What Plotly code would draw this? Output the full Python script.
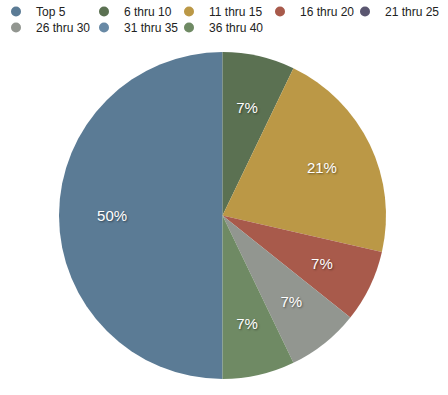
import plotly.graph_objects as go

categories = ["Top 5", "6 thru 10", "11 thru 15", "16 thru 20", "21 thru 25",
              "26 thru 30", "31 thru 35", "36 thru 40"]
values = [7, 1, 3, 1, 0, 1, 0, 1]
colors = ["#5b7b95", "#5b7152", "#bb9846", "#a85a4b", "#5a5670",
          "#929690", "#6889a5", "#6f8a64"]

W, H = 448, 395
CX, CY, R = 222.5, 215.5, 163.5  # pie centre/radius (px)

# legend layout: 5 columns, 2 rows (marker centre x in px, row y in paper coords)
COL_PX = [15, 103, 188, 279, 364]
ROW_Y = [1.0075, 0.967]
SYMBOL_OFFSET = 19  # px from legend left edge to marker centre


def domain(rad):
    return dict(x=[(CX - rad) / W, (CX + rad) / W],
                y=[(H - CY - rad) / H, (H - CY + rad) / H])


font = "Liberation Sans, Arial, sans-serif"
RO, RI = 0.79, 0.56  # ring that carries the labels

fig = go.Figure()
fig.add_trace(go.Pie(
    labels=categories, values=values, sort=False, direction="clockwise",
    rotation=180, marker=dict(colors=colors, line=dict(width=0)),
    textinfo="none", showlegend=False, hoverinfo="label+percent", domain=domain(R),
))
fig.add_trace(go.Pie(
    labels=categories, values=values, sort=False, direction="clockwise",
    rotation=180, hole=RI / RO,
    marker=dict(colors=["rgba(0,0,0,0)"] * len(categories), line=dict(width=0)),
    texttemplate="%{percent:.0%}", textposition="inside",
    insidetextorientation="horizontal",
    textfont=dict(family=font, size=15, color="white",
                  shadow="1px 1px 2px rgba(0,0,0,0.45)"),
    showlegend=False, hoverinfo="skip", domain=domain(R * RO),
))

leg = dict(orientation="h", yanchor="top", xanchor="left", itemwidth=30,
           font=dict(family=font, size=12, color="#222"),
           bgcolor="rgba(0,0,0,0)")
legends = {}
for i, (c, col) in enumerate(zip(categories, colors)):
    name = "legend" if i == 0 else f"legend{i + 1}"
    row, colidx = divmod(i, 5)
    legends[name] = dict(leg, x=(COL_PX[colidx] - SYMBOL_OFFSET) / W, y=ROW_Y[row])
    fig.add_trace(go.Scatter(x=[None], y=[None], mode="markers", name=c,
                             legend=name,
                             marker=dict(symbol="circle", size=10, color=col)))

fig.update_layout(
    width=W, height=H, margin=dict(l=0, r=0, t=0, b=0, autoexpand=False),
    paper_bgcolor="white", plot_bgcolor="white",
    xaxis=dict(visible=False), yaxis=dict(visible=False),
    **legends,
)
fig.write_html("out.html", config={"displayModeBar": False},
               post_script="document.body.style.margin='0';")
